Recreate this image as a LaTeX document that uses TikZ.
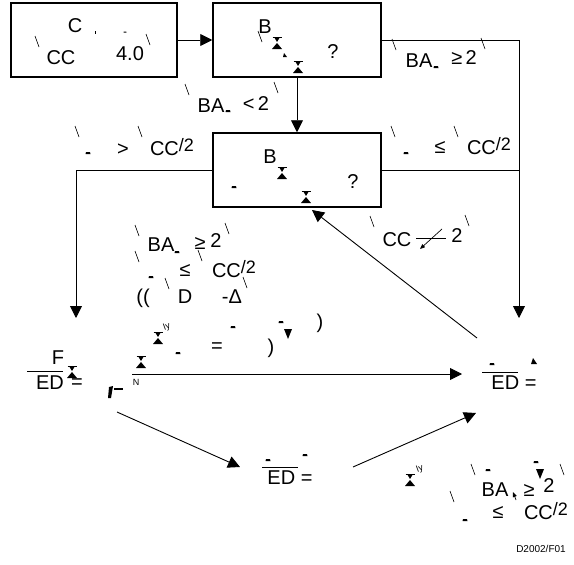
\documentclass[tikz,border=0pt]{standalone}
\usepackage{fontspec}
\setmainfont{Liberation Sans}
\usetikzlibrary{arrows.meta}
\newcommand{\halfsl}{\raisebox{4pt}{\fontsize{18}{20}\selectfont/2}}
\begin{document}
\begin{tikzpicture}[x=1pt,y=-1pt,
  font=\fontsize{20}{23}\selectfont,
  box/.style={draw,line width=1.5pt,inner sep=0pt,minimum height=74pt},
  conn/.style={line width=0.9pt},
  arr/.style={conn,-{Triangle[length=12pt,width=12pt]}},
  small arr/.style={line width=0.7pt,-{Triangle[length=5pt,width=4pt]}},
  tick/.style={line width=0.6pt},
  lbl/.style={inner sep=0pt,anchor=center},
  bar/.style={line width=1pt},
  hg/.pic={
    \fill (-5,6)--(5,6)--(0,0)--cycle;
    \fill (-3,-6)--(3,-6)--(0,-1)--cycle;
    \draw[line width=0.6pt] (-4.5,-6)--(4.5,-6);
  },
  dn/.pic={\fill (-4,-5)--(4,-5)--(0,5)--cycle;},
  tk/.pic={\draw[tick] (-2,-6)--(2,5);},
  ds/.pic={\fill (-2.5,1.2) -- (-2,-0.8) -- (2,-0.8) -- (2.5,1.2) -- cycle;}
]
\useasboundingbox (0,0) rectangle (574,565);

% boxes
\node[box,minimum width=166pt] (b1) at (94,40) {};
\node[box,minimum width=168pt] (b2) at (297,40) {};
\node[box,minimum width=168pt] (b3) at (297,170) {};

% connector coordinates
\coordinate (rtop) at (519,40);
\coordinate (rmid) at (519,170);
\coordinate (rend) at (519,318);
\coordinate (ltop) at (76,170);
\coordinate (lend) at (76,318);
\coordinate (hstart) at (132,374);
\coordinate (hend) at (462,374);
\coordinate (dstart) at (477,338);
\coordinate (dend) at (312,210);
\coordinate (lstart) at (117,412);
\coordinate (lend2) at (240,467);
\coordinate (ustart) at (353,467);
\coordinate (uend) at (476,413);

\draw[arr] (b1.east) -- (b2.west);
\draw[arr] (b2.south) -- (b3.north);
\draw[arr] (b2.east) -- (rtop) -- (rend);
\draw[conn] (b3.east) -- (rmid);
\draw[arr] (b3.west) -- (ltop) -- (lend);
\draw[arr] (dstart) -- (dend);
\draw[arr] (hstart) -- (hend);
\draw[arr] (lstart) -- (lend2);
\draw[arr] (ustart) -- (uend);

% box 1 text
\node[lbl] (t1) at (75,26) {C};
\node[lbl] (t2) at (61,58) {CC};
\node[lbl] (t3) at (130,54) {4.0};
\pic at (37,42) {tk};
\pic at (148,40) {tk};
\draw[tick] (95,31) -- (95,34);
\pic[scale=0.6] at (125,32) {ds};

% box 2 text
\node[lbl] (t4) at (265,27) {B};
\node[lbl] (t5) at (333,52) {?};
\pic at (277,43) {hg};
\pic at (298,67) {hg};
\pic at (260,37) {tk};
\fill (284,53)--(287,57)--(283,57)--cycle;

% BA < 2
\node[lbl] (t6) at (211,106) {BA};
\pic at (228,111) {ds};
\node[lbl] (t7) at (256,104) {<\,2};
\pic at (187,90) {tk};
\pic at (276,88) {tk};

% BA >= 2 right
\node[lbl] (t8) at (419,61) {BA};
\pic at (436,67) {ds};
\node[lbl] (t9) at (464,58) {≥\,2};
\pic at (394,45) {tk};
\pic at (483,44) {tk};

% > CC/2
\pic at (77,132) {tk};
\pic at (140,132) {tk};
\pic at (88,153) {ds};
\node[lbl] (t10) at (123,150) {>};
\node[lbl] (t11) at (172,147) {CC\halfsl};

% <= CC/2 right
\pic at (393,132) {tk};
\pic at (456,132) {tk};
\pic at (406,153) {ds};
\node[lbl] (t12) at (440,147) {≤};
\node[lbl] (t13) at (489,146) {CC\halfsl};

% box 3 text
\node[lbl] (t14) at (270,157) {B};
\node[lbl] (t15) at (353,182) {?};
\pic at (282,173) {hg};
\pic at (306,197) {hg};
\pic at (234,187) {ds};

% CC not 2
\node[lbl] (t16) at (397,240) {CC};
\draw[bar] (416,238) -- (446,238);
\draw[small arr] (442,229) -- (420,249);
\node[lbl] (t17) at (457,236) {2};
\pic at (372,222) {tk};
\pic at (467,221) {tk};

% middle block
\node[lbl] (t18) at (161,245) {BA};
\pic at (177,252) {ds};
\node[lbl] (t19) at (200,243) {≥};
\pic at (200,256) {tk};
\node[lbl] (t20) at (216,241) {2};
\pic at (137,231) {tk};
\pic at (227,229) {tk};
\pic at (137,257) {tk};
\pic at (151,277) {ds};
\node[lbl] (t21) at (185,270) {≤};
\node[lbl] (t22) at (234,269) {CC\halfsl};
\node[lbl] (t23) at (143,298) {((};
\node[lbl] (t24) at (185,297) {D};
\node[lbl] (t25) at (232,297) {-Δ};
\pic at (167,284) {tk};
\pic at (245,283) {tk};

% formula row
\pic at (158,338) {hg};
\pic at (141,362) {hg};
\node[lbl,font=\fontsize{9}{10}\selectfont,rotate=20] (t26) at (167,327) {ly};
\pic at (178,353) {ds};
\node[lbl] (t27) at (217,348) {=};
\pic at (233,327) {ds};
\node[lbl] (t28) at (271,348) {)};
\pic at (281,322) {ds};
\pic at (288,334) {dn};
\node[lbl] (t29) at (320,323) {)};
\node[lbl,font=\fontsize{9}{10}\selectfont] (t30) at (136,382) {N};
\fill (109,387) -- (113,386) -- (111,398) -- (108,398) -- cycle;
\fill (114,388) rectangle (123,390);

% left ED
\node[lbl] (t31) at (58,358) {F};
\draw[bar] (27,371) -- (63,371);
\node[lbl] (t32) at (50,383) {ED};
\pic at (72,372) {hg};
\node[lbl] (t33) at (77,384) {=};

% right ED
\draw[bar] (482,372) -- (518,372);
\node[lbl] (t34) at (514,383) {ED =};
\pic at (492,364) {ds};
\fill (533,358)--(537,364)--(531,364)--cycle;

% bottom ED
\draw[bar] (262,467) -- (298,467);
\node[lbl] (t35) at (290,478) {ED =};
\pic at (268,460) {ds};
\pic at (305,455) {ds};

% bottom right block
\pic at (410,480) {hg};
\node[lbl,font=\fontsize{9}{10}\selectfont,rotate=20] (t36) at (420,469) {ly};
\pic at (473,470) {tk};
\pic at (562,470) {tk};
\pic at (452,497) {tk};
\pic at (488,470) {ds};
\pic at (536,462) {ds};
\pic at (540,474) {dn};
\node[lbl] (t37) at (495,490) {BA};
\node[lbl] (t38) at (529,490) {≥};
\node[lbl] (t39) at (549,486) {2};
\draw[small arr] (516,500) -- (513,492);
\node[lbl] (t40) at (498,512) {≤};
\node[lbl] (t41) at (546,511) {CC\halfsl};
\pic at (465,520) {ds};

% figure id
\node[lbl,font=\fontsize{10}{11}\selectfont] (t42) at (541,549) {D2002/F01};
\end{tikzpicture}
\end{document}
